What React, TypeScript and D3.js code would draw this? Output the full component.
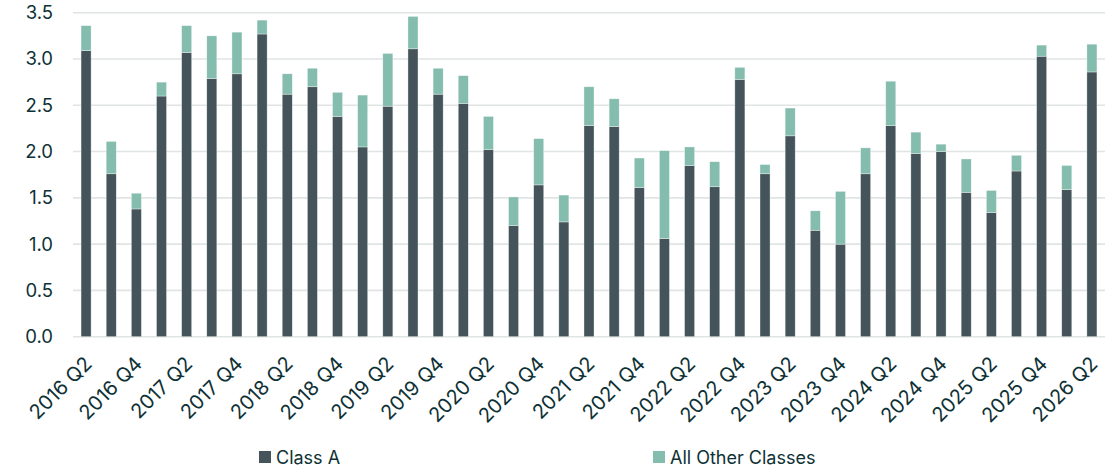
import React from 'react';
import * as d3 from 'd3';

const quarters = [
	'2016 Q2', '2016 Q3', '2016 Q4',
	'2017 Q1', '2017 Q2', '2017 Q3', '2017 Q4',
	'2018 Q1', '2018 Q2', '2018 Q3', '2018 Q4',
	'2019 Q1', '2019 Q2', '2019 Q3', '2019 Q4',
	'2020 Q1', '2020 Q2', '2020 Q3', '2020 Q4',
	'2021 Q1', '2021 Q2', '2021 Q3', '2021 Q4',
	'2022 Q1', '2022 Q2', '2022 Q3', '2022 Q4',
	'2023 Q1', '2023 Q2', '2023 Q3', '2023 Q4',
	'2024 Q1', '2024 Q2', '2024 Q3', '2024 Q4',
	'2025 Q1', '2025 Q2', '2025 Q3', '2025 Q4',
	'2026 Q1', '2026 Q2',
];

// Class A
const classA = [
	3.09, 1.76, 1.38,
	2.6, 3.07, 2.79, 2.84,
	3.27, 2.62, 2.7, 2.38,
	2.05, 2.49, 3.11, 2.62,
	2.52, 2.02, 1.2, 1.64,
	1.24, 2.28, 2.27, 1.61,
	1.06, 1.85, 1.62, 2.78,
	1.76, 2.17, 1.15, 1.0,
	1.76, 2.28, 1.98, 2.0,
	1.56, 1.34, 1.79, 3.03,
	1.59, 2.86,
];

// All other classes (stacked on top)
const otherClasses = [
	0.27, 0.35, 0.17,
	0.15, 0.29, 0.46, 0.45,
	0.15, 0.22, 0.2, 0.26,
	0.56, 0.57, 0.35, 0.28,
	0.3, 0.36, 0.31, 0.5,
	0.29, 0.42, 0.3, 0.32,
	0.95, 0.2, 0.27, 0.13,
	0.1, 0.3, 0.21, 0.57,
	0.28, 0.48, 0.23, 0.08,
	0.36, 0.24, 0.17, 0.12,
	0.26, 0.3,
];

const yTicks = [0, 0.5, 1, 1.5, 2, 2.5, 3, 3.5];
const seriesNames = ['Class A', 'All Other Classes'];
const colors = ['#45545a', '#84bcad'];

const App = () => {
	const svgWidth = 1114;
	const svgHeight = 470;
	const plot = { left: 73, right: 1105, top: 12.7, bottom: 336.7 };
	const textColor = '#0e3135';
	const font = 'Inter, "Open Sans", sans-serif';

	const xScale = d3
		.scaleBand()
		.domain(quarters)
		.range([plot.left, plot.right])
		.paddingInner(0.6)
		.paddingOuter(0.32);
	const yScale = d3
		.scaleLinear()
		.domain([0, 3.5])
		.range([plot.bottom, plot.top]);

	const rows = quarters.map((q, i) => ({ q, a: classA[i], o: otherClasses[i] }));
	const stacked = d3.stack().keys(['a', 'o'])(rows as any);

	return (
		<svg
			width={svgWidth}
			height={svgHeight}
			style={{ position: 'absolute', left: 0, top: 0, background: '#fff' }}
			fontFamily={font}
		>
			{/* gridlines */}
			<g className='grid-lines'>
				{yTicks.map((v) => (
					<line
						key={'g' + v}
						x1={plot.left}
						x2={plot.right}
						y1={yScale(v)}
						y2={yScale(v)}
						stroke='#e0e5e4'
						strokeWidth={1.6}
					/>
				))}
			</g>
			{/* y labels */}
			<g className='y-tick-labels'>
				{yTicks.map((v) => (
					<text
						key={'t' + v}
						x={53}
						y={yScale(v) + 6.5}
						textAnchor='end'
						fontSize={18.5}
						fill={textColor}
					>
						{v.toFixed(1)}
					</text>
				))}
			</g>
			{/* bars */}
			{stacked.map((layer, si) => (
				<g key={si} fill={colors[si]}>
					{layer.map((d: any, i) => (
						<rect
							key={i}
							x={xScale(quarters[i])}
							y={yScale(d[1])}
							width={xScale.bandwidth()}
							height={yScale(d[0]) - yScale(d[1])}
							stroke='#ffffff'
							strokeOpacity={0.6}
							strokeWidth={0.6}
						/>
					))}
				</g>
			))}
			{/* x labels */}
			<g className='x-tick-labels'>
				{quarters.map((q, i) => {
					if (i % 2 !== 0) return null;
					const cx = xScale(q) + xScale.bandwidth() / 2;
					return (
						<text
							key={q}
							transform={`translate(${cx + 7},${365}) rotate(-45)`}
							textAnchor='end'
							fontSize={20}
							fill={textColor}
						>
							{q}
						</text>
					);
				})}
			</g>
			{/* legend */}
			<g className='legend'>
				{[259, 653].map((lx, i) => (
					<g key={seriesNames[i]} transform={`translate(${lx},451)`}>
						<rect width={12} height={12} fill={colors[i]} />
						<text x={17} y={12.5} fontSize={18} fill={textColor}>
							{seriesNames[i]}
						</text>
					</g>
				))}
			</g>
		</svg>
	);
};

export default App;
